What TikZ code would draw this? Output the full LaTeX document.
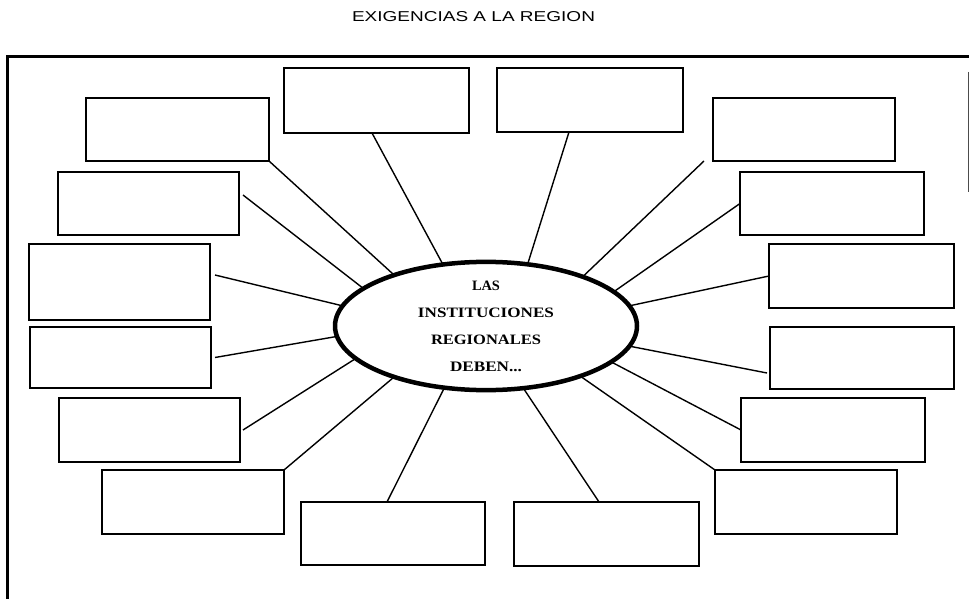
\documentclass[tikz,border=0pt]{standalone}
\usepackage{fontspec}
\setmainfont{Liberation Serif}
\newfontfamily\arialf{Liberation Sans}
\usetikzlibrary{shapes.geometric}
\tikzset{
  boxst/.style={draw, line width=2pt, rectangle, inner sep=0pt, outer sep=0pt},
  spoke/.style={line width=1.4pt},
  frame/.style={line width=3pt},
  centerel/.style={draw, ellipse, line width=4.5pt, inner sep=0pt, outer sep=0pt,
    minimum width=302pt, minimum height=122pt, align=center,
    font=\bfseries\fontsize{14}{27}\selectfont}
}
\newcommand{\fitline}[2]{\resizebox{#1}{9.5pt}{#2}}
\begin{document}
\begin{tikzpicture}[x=1pt,y=-1pt]
\useasboundingbox (0,0) rectangle (969,599);
% frame
\draw[frame] (7,599) -- (7,57) -- (969,57);
\draw[line width=0.8pt, black!70] (968,72) -- (968,192);
% title
\node[inner sep=0pt] (title) at (473.5,17) {\resizebox{243pt}{10pt}{\arialf EXIGENCIAS A LA REGION}};
% centre
\node[centerel] (E) at (486,326) {\fitline{28pt}{LAS}\\ \fitline{136pt}{INSTITUCIONES}\\ \fitline{110pt}{REGIONALES}\\ \fitline{72pt}{DEBEN...}};
% boxes
\node[boxst, minimum width=183pt, minimum height=63pt] (A) at (177.5,129.5) {};
\node[boxst, minimum width=181pt, minimum height=63pt] (B) at (148.5,203.5) {};
\node[boxst, minimum width=185pt, minimum height=65pt] (C) at (376.5,100.5) {};
\node[boxst, minimum width=186pt, minimum height=64pt] (D) at (590,100) {};
\node[boxst, minimum width=182pt, minimum height=63pt] (Eb) at (804,129.5) {};
\node[boxst, minimum width=184pt, minimum height=63pt] (F) at (832,203.5) {};
\node[boxst, minimum width=181pt, minimum height=76pt] (G) at (119.5,282) {};
\node[boxst, minimum width=181pt, minimum height=61pt] (H) at (120.5,357.5) {};
\node[boxst, minimum width=181pt, minimum height=64pt] (I) at (149.5,430) {};
\node[boxst, minimum width=185pt, minimum height=64pt] (J) at (861.5,276) {};
\node[boxst, minimum width=184pt, minimum height=62pt] (K) at (862,358) {};
\node[boxst, minimum width=184pt, minimum height=64pt] (L) at (833,430) {};
\node[boxst, minimum width=182pt, minimum height=64pt] (M) at (193,502) {};
\node[boxst, minimum width=184pt, minimum height=63pt] (N) at (393,533.5) {};
\node[boxst, minimum width=185pt, minimum height=64pt] (O) at (606.5,534) {};
\node[boxst, minimum width=182pt, minimum height=64pt] (P) at (806,502) {};
% spokes
\draw[spoke] (A.south east) -- (E.151.5);
\draw[spoke] ([xshift=4pt,yshift=8.5pt]B.east) -- (E.163);
\draw[spoke] ([xshift=5pt,yshift=7pt]G.east) -- (E.172.7);
\draw[spoke] ([xshift=4pt]H.east) -- (E.184);
\draw[spoke] ([xshift=3pt]I.east) -- (E.194);
\draw[spoke] (M.north east) -- (E.209);
\draw[spoke] ([xshift=-6pt]N.north) -- (E.236);
\draw[spoke] ([xshift=-7.5pt]O.north) -- (E.301);
\draw[spoke] (P.north west) -- (E.332);
\draw[spoke] (L.west) -- (E.344);
\draw[spoke] ([xshift=-3pt,yshift=-15pt]K.west) -- (E.352);
\draw[spoke] (J.west) -- (E.8.2);
\draw[spoke] (F.west) -- (E.15.8);
\draw[spoke] ([xshift=-9pt]Eb.south west) -- (E.27.3);
\draw[spoke] ([xshift=-21pt]D.south) -- (E.56);
\draw[spoke] ([xshift=-4.5pt]C.south) -- (E.125.8);
\end{tikzpicture}
\end{document}
